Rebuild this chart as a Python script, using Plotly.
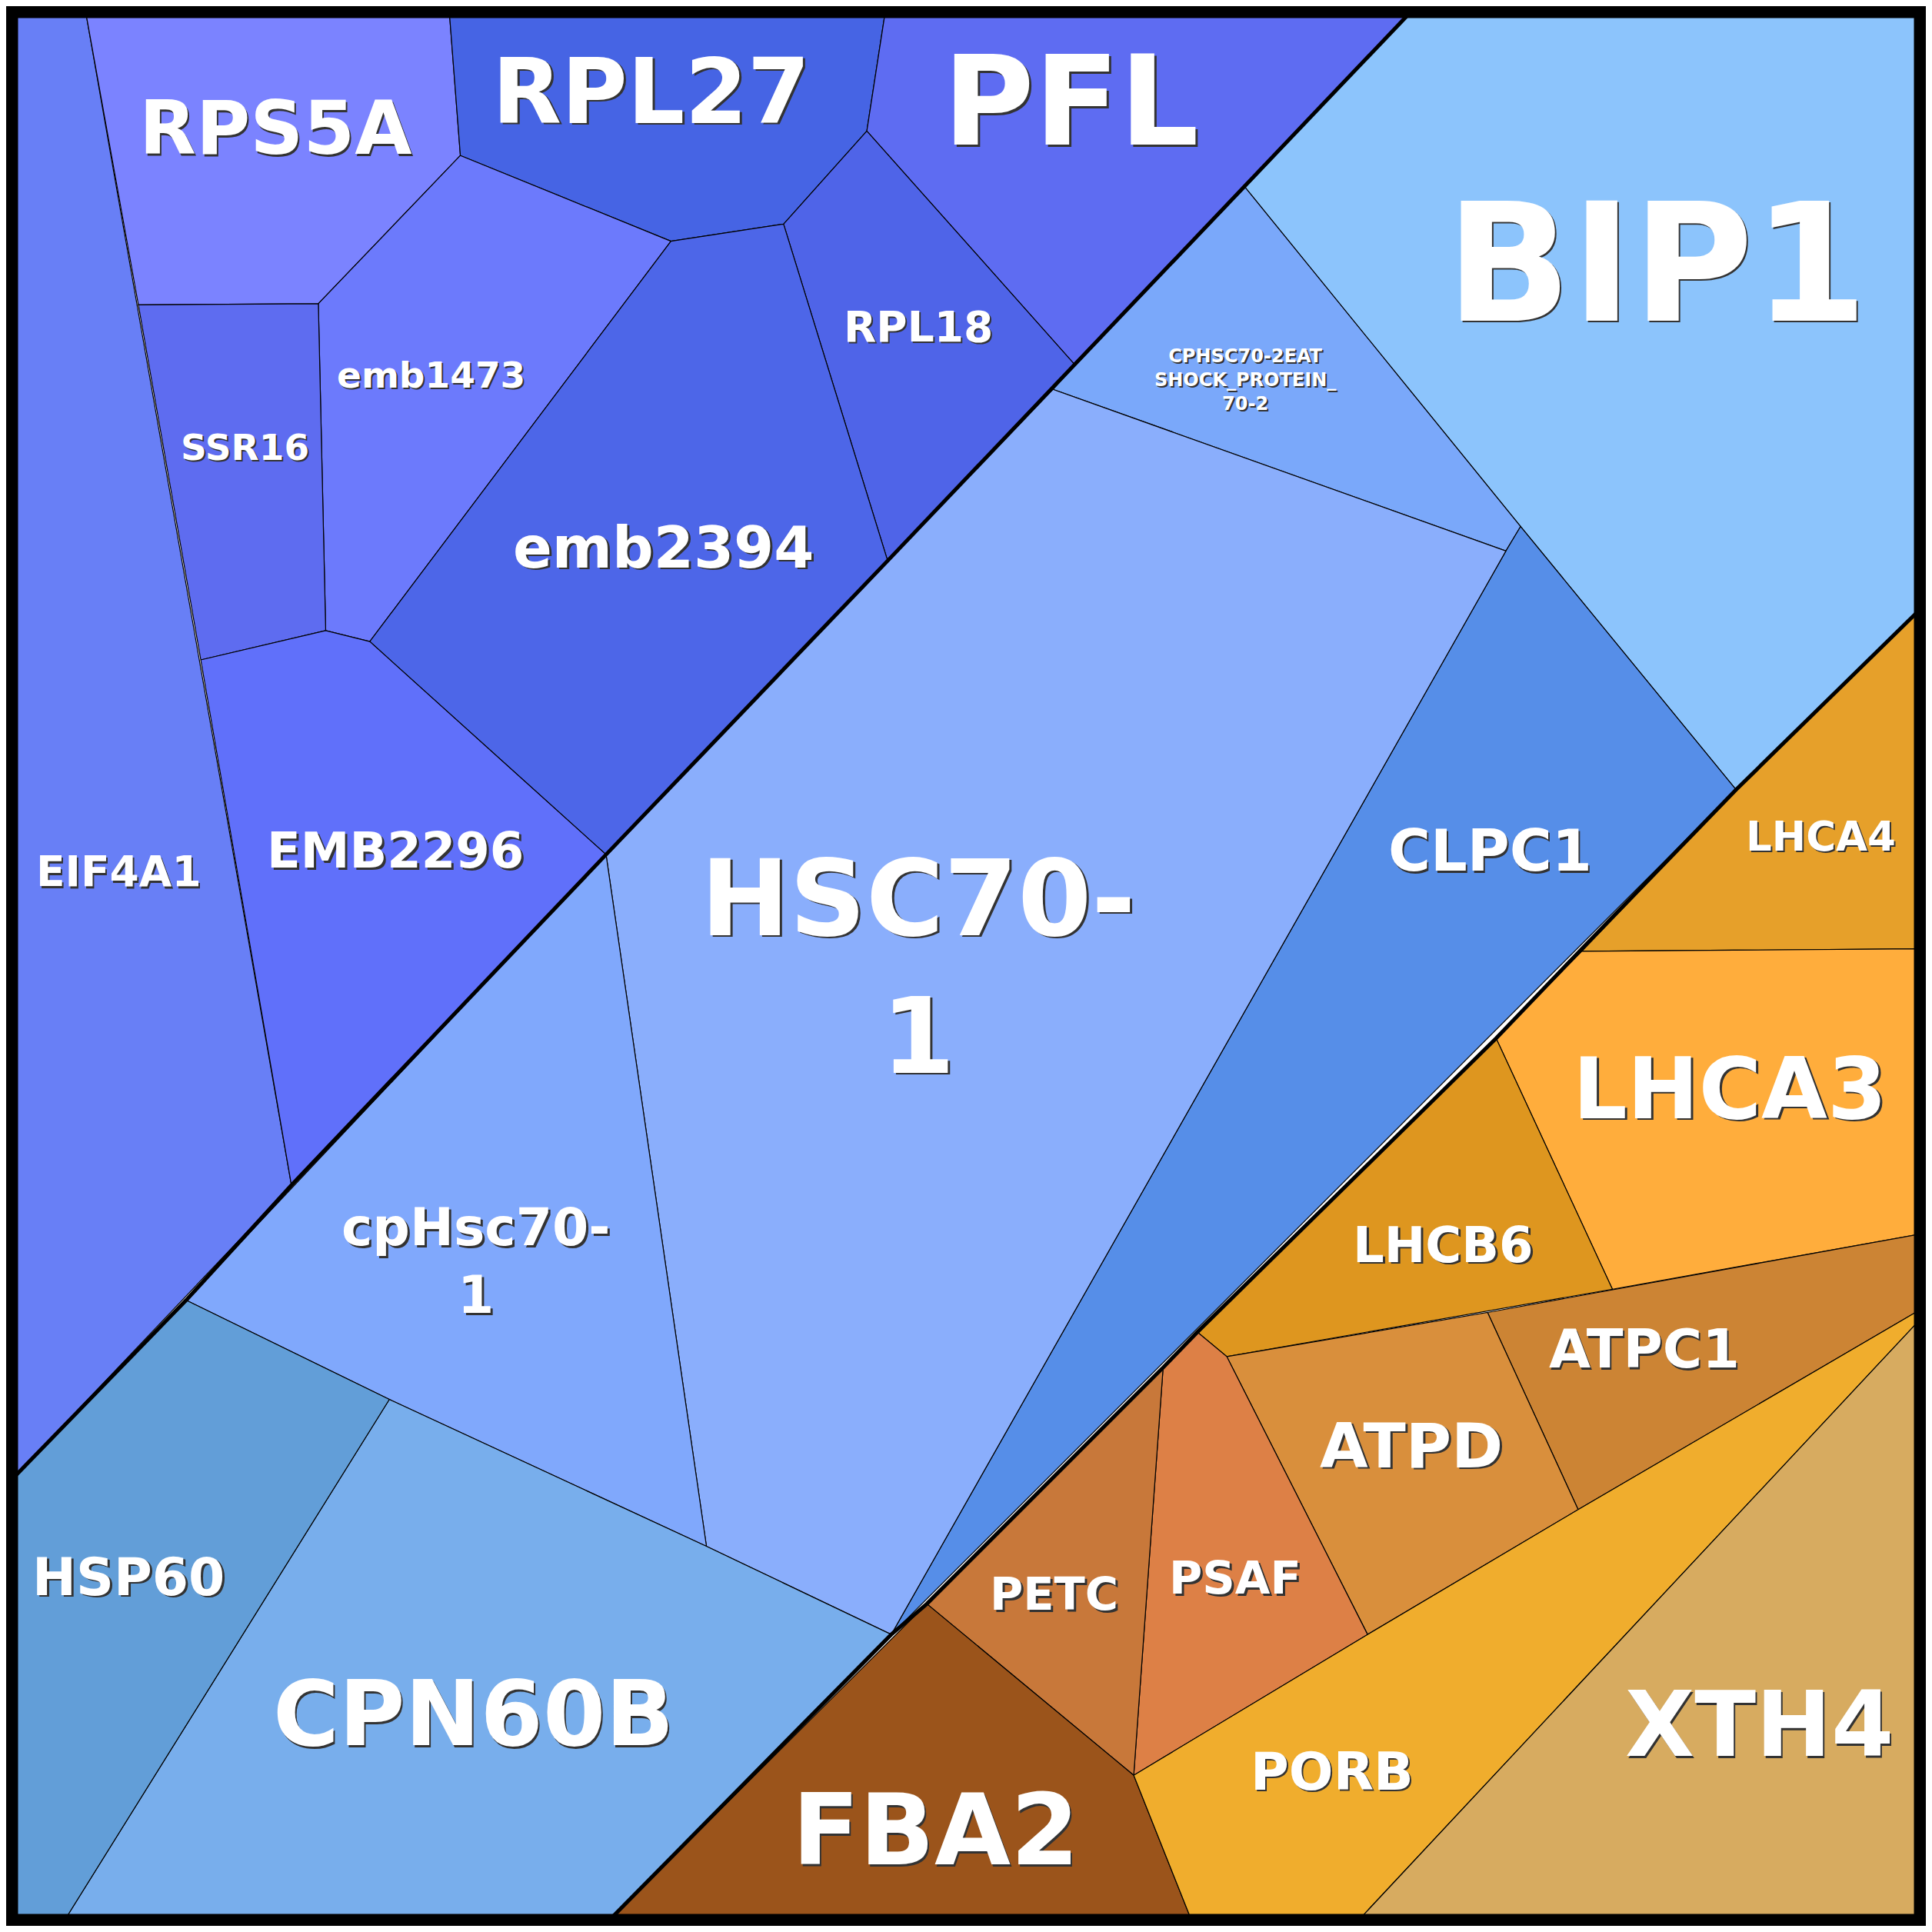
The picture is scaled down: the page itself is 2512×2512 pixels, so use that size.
import plotly.graph_objects as go

# Voronoi treemap cells (x, y in a 0..1568 frame, y down)
names = ["EIF4A1", "RPS5A", "RPL27", "PFL", "RPL18", "emb1473", "SSR16", "emb2394", "EMB2296",
         "BIP1", "CPHSC70-2EAT<br>SHOCK_PROTEIN_<br>70-2", "CLPC1", "HSC70-<br>1", "cpHsc70-<br>1", "CPN60B", "HSP60",
         "LHCA4", "LHCA3", "LHCB6", "ATPC1", "ATPD", "PSAF", "PETC", "FBA2", "PORB", "XTH4"]
colors = ["#687ff6", "#7b83ff", "#4664e4", "#5e6cf2", "#4f64e8", "#6c7afc", "#5e6cf0", "#4d66e8", "#6070fa",
          "#8cc4fc", "#7aa8fa", "#568ee8", "#8aaefc", "#80a8fc", "#78aeec", "#629ed8",
          "#e6a02a", "#ffad3c", "#de961f", "#cc8434", "#d98f3c", "#dd8046", "#c8783a", "#9b541b", "#f0ad2d", "#d7ab60"]
cells = [
    [(5, 5), (65, 5), (233, 963), (5, 1203)],
    [(65, 5), (362, 5), (371, 122), (255, 243), (108, 244)],
    [(362, 5), (718, 5), (703, 102), (635, 178), (543, 192), (371, 122)],
    [(718, 5), (1147, 5), (873, 293), (703, 102)],
    [(703, 102), (873, 293), (720, 453), (635, 178)],
    [(371, 122), (543, 192), (297, 519), (261, 510), (255, 243)],
    [(108, 244), (255, 243), (261, 510), (159, 534)],
    [(543, 192), (635, 178), (720, 453), (490, 693), (297, 519)],
    [(159, 534), (261, 510), (297, 519), (490, 693), (233, 963)],
    [(1147, 5), (1563, 5), (1563, 493), (1413, 640), (1237, 425), (1012, 148)],
    [(1012, 148), (1237, 425), (1225, 445), (855, 313), (873, 293)],
    [(1225, 445), (1237, 425), (1413, 640), (723, 1330)],
    [(855, 313), (1225, 445), (723, 1330), (572, 1258), (490, 693)],
    [(490, 693), (572, 1258), (313, 1138), (147, 1057)],
    [(313, 1138), (572, 1258), (723, 1330), (493, 1563), (48, 1563)],
    [(5, 1203), (147, 1057), (313, 1138), (48, 1563), (5, 1563)],
    [(1413, 640), (1563, 493), (1563, 770), (1287, 772)],
    [(1287, 772), (1563, 770), (1563, 1003), (1312, 1048), (1217, 843)],
    [(1217, 843), (1312, 1048), (997, 1103), (973, 1083)],
    [(1210, 1067), (1563, 1003), (1563, 1065), (1284, 1228)],
    [(997, 1103), (1210, 1067), (1284, 1228), (1112, 1330)],
    [(945, 1112), (973, 1083), (997, 1103), (1112, 1330), (921, 1445)],
    [(752, 1305), (945, 1112), (921, 1445)],
    [(493, 1563), (752, 1305), (921, 1445), (968, 1563)],
    [(921, 1445), (1112, 1330), (1284, 1228), (1563, 1065), (1563, 1073), (1105, 1563), (968, 1563)],
    [(1105, 1563), (1563, 1073), (1563, 1563)],
]
label_pos = [(92, 707), (220, 100), (527, 70), (870, 78), (745, 262), (347, 301), (195, 360), (537, 442), (318, 690),
             (1348, 210), (1012, 305), (1212, 690), (745, 785), (384, 1025), (382, 1395), (100, 1283),
             (1482, 678), (1408, 884), (1174, 1012), (1338, 1097), (1148, 1176), (1004, 1284), (856, 1297),
             (759, 1490), (1083, 1442), (1432, 1404)]
label_size = [55, 96, 117, 162, 55, 47, 47, 75, 64,
              214, 24, 75, 138, 68, 117, 68,
              53, 111, 64, 70, 81, 59, 59, 128, 68, 117]

# group boundaries (thick lines)
group_line_1 = [(1147, 5), (873, 293), (720, 453), (490, 693), (233, 963), (147, 1057), (5, 1203)]
group_line_2 = [(1563, 493), (1413, 640), (1287, 770), (1217, 843), (973, 1083), (945, 1112),
                (752, 1305), (723, 1330), (493, 1563)]

fig = go.Figure()
for name, col, pts in zip(names, colors, cells):
    xs = [p[0] for p in pts] + [pts[0][0]]
    ys = [p[1] for p in pts] + [pts[0][1]]
    fig.add_trace(go.Scatter(x=xs, y=ys, fill="toself", fillcolor=col, mode="lines",
                             line=dict(color="black", width=1.2), hoverinfo="text",
                             text=name.replace("<br>", ""), showlegend=False))

for gl in [group_line_1, group_line_2]:
    fig.add_trace(go.Scatter(x=[p[0] for p in gl], y=[p[1] for p in gl], mode="lines",
                             line=dict(color="black", width=5), hoverinfo="skip", showlegend=False))

# outer frame
fig.add_shape(type="rect", xref="paper", yref="paper", x0=0.003, x1=0.997, y0=0.003, y1=0.997,
              line=dict(color="black", width=16), layer="above")

for name, (x, y), s in zip(names, label_pos, label_size):
    for dx, c in [(1.5, "#333333"), (0, "white")]:
        fig.add_annotation(x=x + dx, y=y + dx, text="<b>" + name + "</b>", showarrow=False,
                           font=dict(family="DejaVu Sans", size=s, color=c), align="center")

fig.update_xaxes(range=[0, 1568], visible=False)
fig.update_yaxes(range=[1568, 0], visible=False)
fig.update_layout(width=2496, height=2496, margin=dict(l=0, r=0, t=0, b=0),
                  plot_bgcolor="white", paper_bgcolor="white")
fig.write_html("out.html")
